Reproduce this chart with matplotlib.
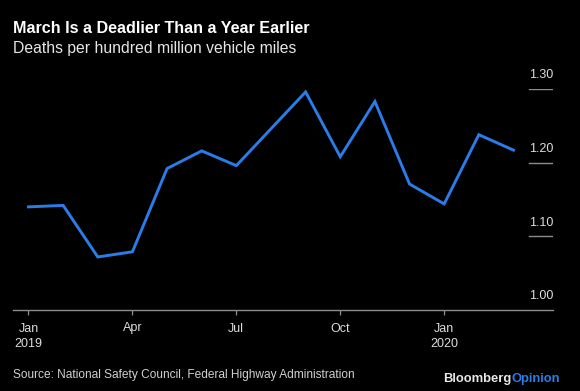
import matplotlib
matplotlib.use("Agg")
import matplotlib.pyplot as plt
import matplotlib.transforms as mtransforms

plt.rcParams['font.family'] = ['Liberation Sans', 'DejaVu Sans']

# Data
months = ["Jan 2019", "Feb 2019", "Mar 2019", "Apr 2019", "May 2019", "Jun 2019",
          "Jul 2019", "Aug 2019", "Sep 2019", "Oct 2019", "Nov 2019", "Dec 2019",
          "Jan 2020", "Feb 2020", "Mar 2020"]
deaths_rate = [1.140, 1.142, 1.072, 1.079, 1.192, 1.216, 1.196, 1.246, 1.296,
               1.208, 1.283, 1.171, 1.144, 1.238, 1.217]
xtick_idx = [0, 3, 6, 9, 12]
xtick_labels = ["Jan\n2019", "Apr", "Jul", "Oct", "Jan\n2020"]
ytick_vals = [1.00, 1.10, 1.20, 1.30]
ytick_labels = ["1.00", "1.10", "1.20", "1.30"]

W, H = 580, 391
fig = plt.figure(figsize=(W / 100, H / 100), dpi=100, facecolor='black')

left_px, right_px, bot_px, top_px = 12.7, 553.3, 310, 89
ax = fig.add_axes([left_px / W, (H - bot_px) / H, (right_px - left_px) / W, (bot_px - top_px) / H])
ax.set_facecolor('black')

x = list(range(len(deaths_rate)))
ax.plot(x, deaths_rate, color='#2a7de8', lw=2.1, solid_joinstyle='miter', clip_on=False, zorder=3)

ax.set_xlim(-0.456, 15.15)
ax.set_ylim(1.0, 1.30)

for s in ['top', 'right', 'left']:
    ax.spines[s].set_visible(False)
ax.spines['bottom'].set_color('#8c8c8c')
ax.spines['bottom'].set_linewidth(1.0)

ax.set_xticks(xtick_idx)
ax.set_xticklabels(xtick_labels, color='#dddddd', fontsize=9.0, linespacing=1.35)
ax.tick_params(axis='x', colors='#8c8c8c', length=3.5, width=0.9, direction='out', pad=5.5, labelcolor='#dddddd')
ax.set_yticks([])

# short right-side gridlines and labels
grid_xmin = (529 - left_px) / (right_px - left_px)
trans = mtransforms.blended_transform_factory(ax.transAxes, ax.transData)
for v, lab in zip(ytick_vals, ytick_labels):
    if v > 1.0:
        ax.axhline(v, xmin=grid_xmin, xmax=1.0, color='#8c8c8c', lw=1.0)
    ax.annotate(lab, xy=(1.0, v), xycoords=trans, xytext=(0, 5.5), textcoords='offset points',
                ha='right', va='bottom', color='#dddddd', fontsize=9.0)

# Titles
fig.text(12.7 / W, 1 - 33.3 / H, "March Is a Deadlier Than a Year Earlier", color='white',
         fontsize=11.6, fontweight='bold', ha='left', va='baseline')
fig.text(12.7 / W, 1 - 52.7 / H, "Deaths per hundred million vehicle miles", color='#e6e6e6',
         fontsize=11.3, ha='left', va='baseline')

# Source
fig.text(12.7 / W, 1 - 378 / H, "Source: National Safety Council, Federal Highway Administration",
         color='#d0d0d0', fontsize=8.6, ha='left', va='baseline')

# Logo
t1 = fig.text(442.7 / W, 1 - 382 / H, "Bloomberg", color='#e8e8e8', fontsize=9.4,
              fontweight='bold', ha='left', va='baseline')
ax.annotate("Opinion", xy=(1.0, 0.0), xycoords=t1, xytext=(0.3, 0), textcoords='offset points',
            color='#2a7de8', fontsize=9.4, fontweight='bold', ha='left', va='bottom',
            annotation_clip=False)

fig.savefig("out.png", dpi=100, facecolor='black')
